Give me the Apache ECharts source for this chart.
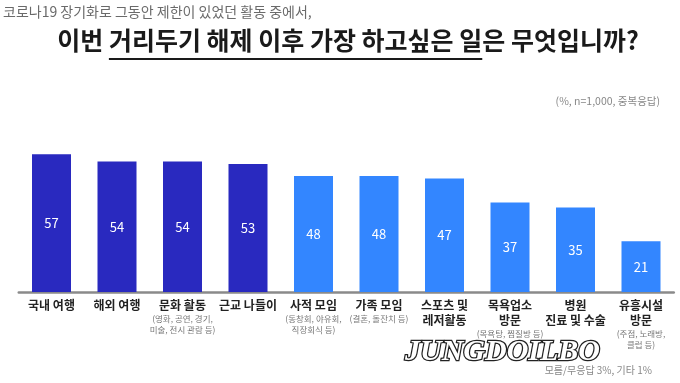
<!DOCTYPE html>
<html>
<head>
<meta charset="utf-8">
<script src="https://cdn.jsdelivr.net/npm/echarts@6/dist/echarts.min.js"></script>
<style>
html,body{margin:0;padding:0;background:#fff;}
#chart{width:680px;height:383px;}
</style>
</head>
<body>
<div id="chart"></div>
<script>
// ---- data ----
const categories = ['국내 여행','해외 여행','문화 활동','근교 나들이','사적 모임','가족 모임','스포츠 및\n레저활동','목욕업소\n방문','병원\n진료 및 수술','유흥시설\n방문'];
const subLabels = ['','','(영화, 공연, 경기,\n미술, 전시 관람 등)','','(동창회, 야유회,\n직장회식 등)','(결혼, 돌잔치 등)','','(목욕탕, 찜질방 등)','','(주점, 노래방,\n클럽 등)'];
const values = [57,54,54,53,48,48,47,37,35,21];
const groups = ['top','top','top','top','other','other','other','other','other','other'];
const subtitleText = '코로나19 장기화로 그동안 제한이 있었던 활동 중에서,';
const titlePre = '이번 ';
const titleUnder = '거리두기 해제 이후 가장 하고싶은 일';
const titlePost = '은 무엇입니까?';
const noteText = '(%, n=1,000, 중복응답)';
const footText = '모름/무응답 3%, 기타 1%';
const watermark = 'JUNGDOILBO';

const groupColors = {top:'#2929BF', other:'#3386FF'};
const FONT = '"Noto Sans CJK KR", "Noto Sans", sans-serif';

const chart = echarts.init(document.getElementById('chart'));

// measure title parts for underline placement
const ctx = document.createElement('canvas').getContext('2d');
const titleFont = 'bold 25px "Noto Sans CJK KR"';
ctx.font = titleFont;
const wPre = ctx.measureText(titlePre).width;
const wUnder = ctx.measureText(titleUnder).width;
const wPost = ctx.measureText(titlePost).width;
const total = wPre + wUnder + wPost;
const tx0 = 348 - total/2;

chart.setOption({
  animation:false,
  backgroundColor:'#ffffff',
  grid:{left:18.75, right:6.25, top:147, bottom:91, containLabel:false},
  xAxis:{
    type:'category',
    data:categories,
    axisTick:{show:false},
    axisLine:{show:true, lineStyle:{color:'#8a8a8a', width:2.5}},
    axisLabel:{
      interval:0,
      margin:6,
      formatter:function(v, idx){
        let s = v.split('\n').map(l=>'{m|'+l+'}').join('\n');
        if (subLabels[idx]) {
          s += '\n' + subLabels[idx].split('\n').map(l=>'{s|'+l+'}').join('\n');
        }
        return s;
      },
      rich:{
        m:{fontSize:12, fontWeight:'bold', color:'#222', lineHeight:15, fontFamily:FONT},
        s:{fontSize:8.5, color:'#777', lineHeight:11.5, fontFamily:FONT}
      }
    }
  },
  yAxis:{type:'value', min:0, max:60, show:false, splitLine:{show:false}},
  series:[{
    type:'bar',
    barWidth:39,
    data:values.map((v,i)=>({value:v, itemStyle:{color:groupColors[groups[i]]}})),
    label:{show:true, position:'inside', color:'#fff', fontSize:13, fontFamily:FONT}
  }],
  graphic:[
    {type:'text', left:3, top:5, style:{text:subtitleText, fontSize:14, fill:'#6a6a6a', fontFamily:FONT}},
    {type:'text', x:tx0, y:28, style:{text:titlePre, font:titleFont, fill:'#1a1a1a'}},
    {type:'text', x:tx0+wPre, y:28, style:{text:titleUnder, font:titleFont, fill:'#1a1a1a'}},
    {type:'text', x:tx0+wPre+wUnder, y:28, style:{text:titlePost, font:titleFont, fill:'#1a1a1a'}},
    {type:'rect', shape:{x:tx0+wPre, y:58, width:wUnder, height:2}, style:{fill:'#1a1a1a'}},
    {type:'text', right:20, top:96, style:{text:noteText, fontSize:10.5, fill:'#888', fontFamily:FONT}},
    {type:'text', right:28, top:365, style:{text:footText, fontSize:10, fill:'#888', fontFamily:FONT}},
    {type:'text', x:405, y:337, style:{text:watermark, font:'italic bold 30px "Liberation Serif"', fill:'#ffffff', stroke:'#222', lineWidth:2.5, shadowBlur:4, shadowColor:'rgba(0,0,0,0.5)', shadowOffsetX:2, shadowOffsetY:2}}
  ]
});
</script>
</body>
</html>
